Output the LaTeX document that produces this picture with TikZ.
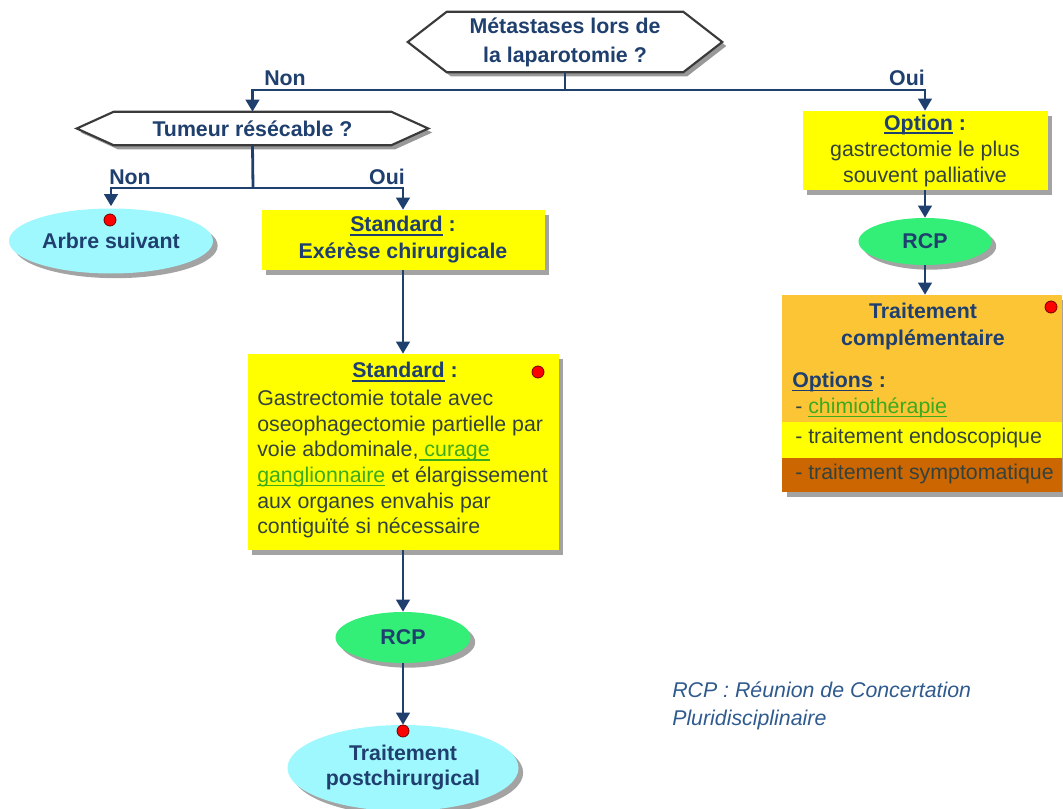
\documentclass[tikz,border=0pt]{standalone}
\usepackage{fontspec}
\setmainfont{Liberation Sans}
\usetikzlibrary{arrows.meta,shadows,calc,shapes.geometric,backgrounds}

\definecolor{navy}{HTML}{1F3F6E}
\definecolor{bodytxt}{HTML}{33423F}
\definecolor{linkgreen}{HTML}{3CAA1E}
\definecolor{legendblue}{HTML}{2F5A8E}
\definecolor{cyanfill}{HTML}{A0F8FF}
\definecolor{rcpgreen}{HTML}{33EE77}
\definecolor{boxyellow}{HTML}{FFFF00}
\definecolor{boxorange}{HTML}{FCC536}
\definecolor{boxrust}{HTML}{CC6600}
\definecolor{hexborder}{HTML}{3A3A3A}

% thick underline used for the headings and the links
\newcommand\undl[1]{\setbox0=\hbox{#1}\rlap{\rule[-2.8pt]{\wd0}{1.1pt}}\box0\relax}

% hexagon outline around a node: node, point depth, x offset, y offset
\newcommand\hexpath[4]{($(#1.west)+(#3,#4)$) -- ($(#1.north west)+(#2+#3,#4)$) -- ($(#1.north east)+(-#2+#3,#4)$) -- ($(#1.east)+(#3,#4)$) -- ($(#1.south east)+(-#2+#3,#4)$) -- ($(#1.south west)+(#2+#3,#4)$) -- cycle}

\tikzset{
  txt/.style={font=\fontsize{16}{19.5}\selectfont},
  bold/.style={font=\fontsize{16}{20.25}\selectfont\bfseries, text=navy},
  hexnode/.style={font=\fontsize{16}{21.75}\selectfont\bfseries, text=navy, align=center, inner sep=0},
  shade/.style={drop shadow={shadow xshift=3.5pt, shadow yshift=-3.5pt, opacity=.45, fill=black!80}},
  ybox/.style={rectangle, fill=boxyellow, inner sep=0, align=center, shade},
  oval/.style={ellipse, inner sep=0, align=center, shade, bold},
  dot/.style={circle, fill=red, draw=red!45!black, line width=0.6pt, minimum size=9pt, inner sep=0},
  lbl/.style={bold},
  link/.style={draw=navy, line width=2.1pt},
  flow/.style={link, -{Triangle[width=10pt,length=9pt]}},
  hexline/.style={fill=white, draw=hexborder, line width=1.6pt, line join=miter},
  hexshade/.style={fill=black!40},
}

\begin{document}
\begin{tikzpicture}[x=0.75pt, y=-0.75pt]
\useasboundingbox (0,0) rectangle (1063,809);

% decision hexagons (text nodes; outlines drawn on the background layer)
\node[hexnode, minimum width=235.5pt, minimum height=45pt] (hex1) at (565,42) {Métastases lors de\\la laparotomie ?};
\node[hexnode, minimum width=263.25pt, minimum height=24.75pt] (tum) at (252.5,128.5) {Tumeur résécable ?};
\begin{scope}[on background layer]
  \path[hexshade] \hexpath{hex1}{39}{4}{4};
  \path[hexline] \hexpath{hex1}{39}{0}{0};
  \path[hexshade] \hexpath{tum}{37}{4}{4};
  \path[hexline] \hexpath{tum}{37}{0}{0};
\end{scope}

% left branch
\node[oval, fill=cyanfill, minimum width=153pt, minimum height=48.75pt] (arbre) at (111,241) {Arbre suivant};
\node[dot] (dotarbre) at (110,220) {};

\node[ybox, bold, minimum width=212.25pt, minimum height=45pt] (std1) at (403,240)
  {\undl{Standard} :\\Exérèse chirurgicale};

\node[ybox, minimum width=233.25pt, minimum height=147pt] (std2) at (403,452) {};
\node[bold, inner sep=0] (std2title) at (405,372) {\undl{Standard} :};
\node[dot] (dotstd2) at (538,372) {};
\node[txt, text=bodytxt, align=left, anchor=north west, inner sep=0,
      font=\fontsize{16}{19.2}\selectfont] (std2body) at (257,390)
  {Gastrectomie totale avec\\
   oseophagectomie partielle par\\
   voie abdominale,{\color{linkgreen}\undl{\ curage}}\\
   {\color{linkgreen}\undl{ganglionnaire}} et élargissement\\
   aux organes envahis par\\
   contiguïté si nécessaire};

\node[oval, fill=rcpgreen, minimum width=101.25pt, minimum height=38.25pt] (rcp1) at (403,637.5) {RCP};
\node[oval, fill=cyanfill, minimum width=173.25pt, minimum height=64.5pt,
      font=\fontsize{16}{18.75}\selectfont\bfseries] (post) at (403,768) {Traitement\\postchirurgical};
\node[dot] (dotpost) at (403,731) {};

% right branch
\node[ybox, minimum width=183.75pt, minimum height=59.25pt, txt, text=bodytxt] (opt) at (925,150.5)
  {{\bfseries\color{navy}\undl{Option} :}\\gastrectomie le plus\\souvent palliative};
\node[oval, fill=rcpgreen, minimum width=99.75pt, minimum height=35.25pt] (rcp2) at (925,241.5) {RCP};

\node[rectangle, fill=boxorange, inner sep=0, minimum width=210pt, minimum height=147.75pt, shade] (tc) at (922,393.5) {};
\fill[boxyellow] ($(tc.south west)+(0,-70)$) rectangle ($(tc.south east)+(0,-34)$);
\fill[boxrust] ($(tc.south west)+(0,-34)$) rectangle (tc.south east);
\node[bold, align=center, inner sep=0] (tctitle) at (923,326.5) {Traitement\\complémentaire};
\node[dot] (dottc) at (1051,307) {};
\node[bold, anchor=west, inner sep=0] (tcopt) at (792,382) {\undl{Options} :};
\node[txt, text=bodytxt, anchor=west, inner sep=0] (tc1) at (795,408) {- {\color{linkgreen}\undl{chimiothérapie}}};
\node[txt, text=bodytxt, anchor=west, inner sep=0] (tc2) at (795,438) {- traitement endoscopique};
\node[txt, text=bodytxt, anchor=west, inner sep=0] (tc3) at (795,474) {- traitement symptomatique};

% legend
\node[anchor=west, align=left, inner sep=0, text=legendblue,
      font=\fontsize{16}{21}\selectfont\itshape] (legend) at (672,706)
  {RCP : Réunion de Concertation\\Pluridisciplinaire};

% branch labels
\node[lbl] (non1) at (285,78) {Non};
\node[lbl] (oui1) at (907,78) {Oui};
\node[lbl] (non2) at (130,177) {Non};
\node[lbl] (oui2) at (387,177) {Oui};

% connectors
\coordinate (j1) at (565,90);
\coordinate (j2) at (253,188);
\draw[link] (hex1.south) -- (j1);
\draw[flow] (j1) -| (tum.north);
\draw[flow] (j1) -| (opt.north);
\draw[link] (tum.south) -- (j2);
\draw[flow] (j2) -| ([yshift=1.5pt]arbre.north);
\draw[flow] (j2) -| (std1.north);
\draw[flow] (std1.south) -- (std2.north);
\draw[flow] (std2.south) -- (rcp1.north);
\draw[flow] (rcp1.south) -- (post.north);
\draw[flow] (opt.south) -- (rcp2.north);
\draw[flow] (rcp2.south) -- (rcp2.south |- tc.north);
\end{tikzpicture}
\end{document}
